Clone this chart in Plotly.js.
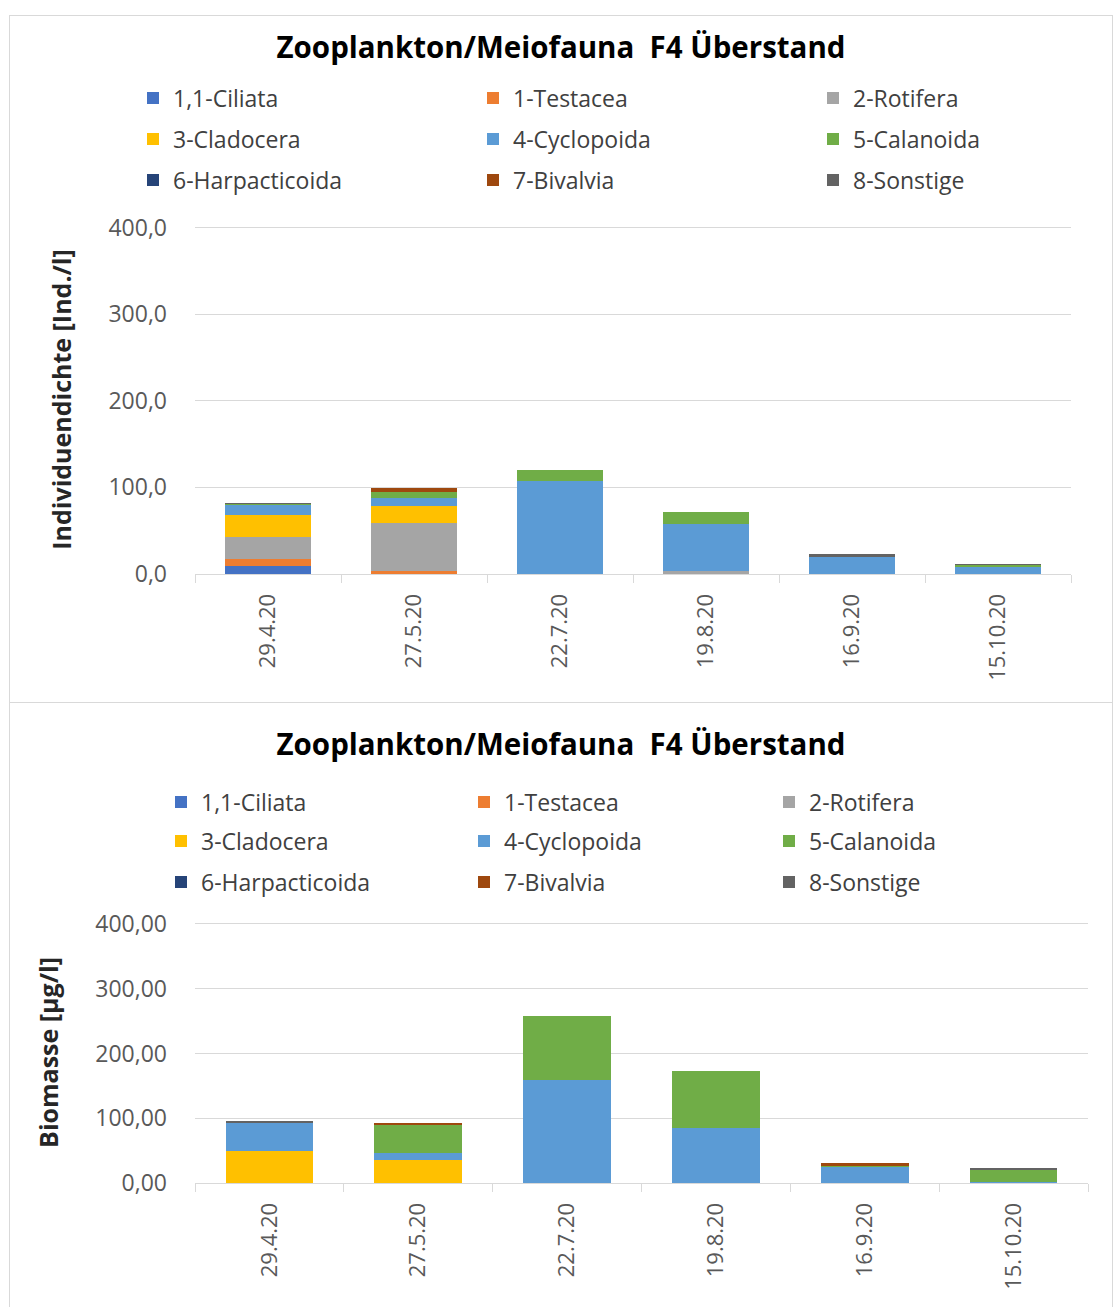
<!DOCTYPE html>
<html>
<head>
<meta charset="utf-8">
<script src="https://cdn.plot.ly/plotly-3.0.1.min.js"></script>
<style>
  body { margin: 0; background: #fff; }
  .panel { position: absolute; left: 9px; width: 1102px; border: 1px solid #d9d9d9; box-sizing: content-box; }
  #top { top: 15px; height: 686px; }
  #bottom { top: 702px; height: 604px; }
</style>
</head>
<body>
<div id="top" class="panel"></div>
<div id="bottom" class="panel"></div>
<script>
var dates = ['29.4.20', '27.5.20', '22.7.20', '19.8.20', '16.9.20', '15.10.20'];
var groups = ['1,1-Ciliata', '1-Testacea', '2-Rotifera', '3-Cladocera', '4-Cyclopoida',
              '5-Calanoida', '6-Harpacticoida', '7-Bivalvia', '8-Sonstige'];
var colors = ['#4472C4', '#ED7D31', '#A5A5A5', '#FFC000', '#5B9BD5',
              '#70AD47', '#264478', '#9E480E', '#636363'];

// Individuendichte [Ind./l]
var ciliataInd      = [9.2, 0, 0, 0, 0, 0];
var testaceaInd     = [8.0, 3.5, 0, 0, 0, 0];
var rotiferaInd     = [25.0, 55.0, 0, 3.8, 0, 0];
var cladoceraInd    = [26.5, 20.4, 0, 0, 0, 0];
var cyclopoidaInd   = [11.5, 9.2, 107.0, 53.8, 20.0, 8.5];
var calanoidaInd    = [0.5, 7.0, 12.7, 14.2, 0, 2.0];
var harpactInd      = [0.5, 0, 0, 0, 0, 0];
var bivalviaInd     = [0, 3.8, 0, 0, 0, 0];
var sonstigeInd     = [1.0, 0, 0, 0, 3.4, 0.5];

// Biomasse [µg/l]
var ciliataBio      = [0, 0, 0, 0, 0, 0];
var testaceaBio     = [0, 0, 0, 0, 0, 0];
var rotiferaBio     = [0, 0, 0, 0, 0, 0];
var cladoceraBio    = [49.4, 35.0, 0, 0, 0, 0];
var cyclopoidaBio   = [43.8, 11.8, 159.0, 84.4, 25.2, 0.8];
var calanoidaBio    = [0, 43.0, 98.3, 88.5, 1.5, 19.6];
var harpactBio      = [0, 0, 0, 0, 0, 0];
var bivalviaBio     = [0, 2.5, 0, 0, 4.0, 0];
var sonstigeBio     = [2.0, 0, 0, 0, 0, 2.5];

var indSeries = [ciliataInd, testaceaInd, rotiferaInd, cladoceraInd, cyclopoidaInd,
                 calanoidaInd, harpactInd, bivalviaInd, sonstigeInd];
var bioSeries = [ciliataBio, testaceaBio, rotiferaBio, cladoceraBio, cyclopoidaBio,
                 calanoidaBio, harpactBio, bivalviaBio, sonstigeBio];

var font = 'Open Sans, sans-serif';
var grey = '#595959';
var lineGrey = '#d9d9d9';

// each entry gets its own legend (legend2 .. legend10)
function legendKey(i) {
  return 'legend' + (i + 2);
}

function makeTraces(series) {
  return series.map(function (vals, i) {
    return {
      type: 'bar',
      x: dates,
      y: vals,
      name: groups[i],
      marker: {color: colors[i], line: {width: 0}},
      legend: legendKey(i),
      hoverinfo: 'x+y+name'
    };
  });
}

function makeLayout(cfg) {
  var layout = {
    width: 1102, height: cfg.height,
    margin: cfg.margin,
    barmode: 'stack',
    bargap: 0.41,
    separators: ',.',
    paper_bgcolor: '#fff', plot_bgcolor: '#fff',
    font: {family: font, color: grey},
    title: {
      text: '<b>Zooplankton/Meiofauna  F4 Überstand</b>',
      font: {family: font, size: 29.5, color: '#000'},
      x: 0.5, xanchor: 'center', yref: 'container', y: cfg.titleY, yanchor: 'middle'
    },
    xaxis: {
      type: 'category',
      tickangle: -90,
      tickfont: {family: font, size: 22, color: grey},
      ticks: 'outside', tickson: 'boundaries', ticklen: 8, tickcolor: lineGrey,
      ticklabelstandoff: 10,
      showline: true, linecolor: lineGrey, linewidth: 1,
      showgrid: false, fixedrange: true
    },
    yaxis: {
      range: [0, 403], // a bit over 400 so the top gridline is drawn
      tickvals: [0, 100, 200, 300, 400],
      tickformat: cfg.fmt,
      tickfont: {family: font, size: 23, color: grey},
      showgrid: true, gridcolor: lineGrey, gridwidth: 1,
      zeroline: false, showline: false, ticks: '',
      ticklabelstandoff: 27,
      title: {
        text: '<b>' + cfg.yTitle + '</b>',
        font: {family: font, size: 25, color: '#262626'},
        standoff: 29
      },
      fixedrange: true
    }
  };
  // 3 columns x 3 rows of single-entry legends
  groups.forEach(function (g, i) {
    layout[legendKey(i)] = {
      orientation: 'h',
      xref: 'container', yref: 'container',
      x: cfg.legX[i % 3] / 1102,
      y: 1 - cfg.legY[Math.floor(i / 3)] / cfg.height,
      xanchor: 'left', yanchor: 'middle',
      font: {family: font, size: 23, color: '#404040'},
      bgcolor: 'rgba(0,0,0,0)'
    };
  });
  return layout;
}

Plotly.newPlot('top', makeTraces(indSeries), makeLayout({
  height: 686,
  margin: {l: 185, r: 41, t: 209, b: 128},
  titleY: 1 - 32 / 686,
  legX: [123, 463, 803],
  legY: [82, 123, 164],
  fmt: '.1f',
  yTitle: 'Individuendichte [Ind./l]'
}), {displayModeBar: false, staticPlot: true});

Plotly.newPlot('bottom', makeTraces(bioSeries), makeLayout({
  height: 604,
  margin: {l: 185, r: 24, t: 219, b: 124},
  titleY: 1 - 42 / 604,
  legX: [151, 454, 759],
  legY: [99, 138, 179],
  fmt: '.2f',
  yTitle: 'Biomasse [µg/l]'
}), {displayModeBar: false, staticPlot: true});
</script>
</body>
</html>
